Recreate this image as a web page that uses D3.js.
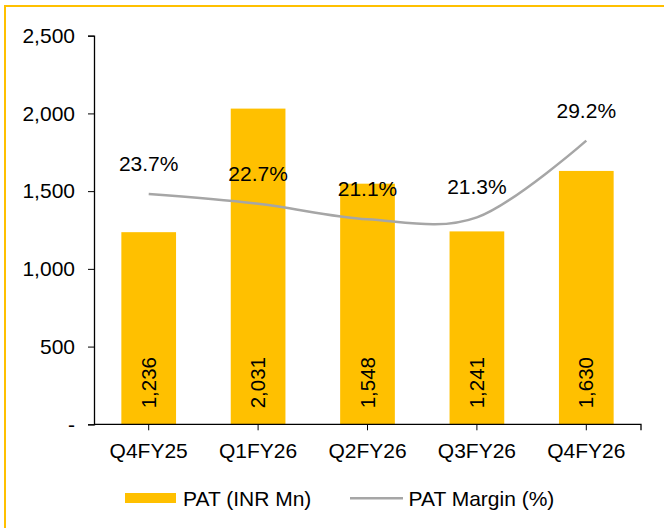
<!DOCTYPE html>
<html>
<head>
<meta charset="utf-8">
<script src="https://cdn.jsdelivr.net/npm/d3@7"></script>
<style>
  html, body { margin: 0; padding: 0; background: #fff; }
  svg { display: block; }
</style>
</head>
<body>
<div id="chart"></div>
<script>
const categories = ["Q4FY25", "Q1FY26", "Q2FY26", "Q3FY26", "Q4FY26"];
const patValues = [1236, 2031, 1548, 1241, 1630];
const marginValues = [23.7, 22.7, 21.1, 21.3, 29.2];
const yTicks = [0, 500, 1000, 1500, 2000, 2500];

const width = 664, height = 528;
const plotLeft = 94, plotRight = 641, plotTop = 35.7, plotBottom = 424.3;
const font = "'Liberation Sans', Arial, sans-serif";

const svg = d3.select("#chart").append("svg")
  .attr("width", width)
  .attr("height", height)
  .style("font-family", font);

// yellow frame (runs off the right/bottom edge)
svg.append("rect")
  .attr("x", 5).attr("y", 6)
  .attr("width", 720).attr("height", 600)
  .attr("fill", "#fff")
  .attr("stroke", "#FFC000")
  .attr("stroke-width", 2);

const x = d3.scaleBand().domain(categories).range([plotLeft, plotRight])
  .paddingInner(0.5).paddingOuter(0.25);
const y = d3.scaleLinear().domain([0, 2500]).range([plotBottom, plotTop]);
const y2 = d3.scaleLinear().domain([0, 40]).range([plotBottom, plotTop]);

// bars
svg.append("g").selectAll("rect")
  .data(patValues)
  .join("rect")
  .attr("x", (d, i) => x(categories[i]))
  .attr("y", d => y(d))
  .attr("width", x.bandwidth())
  .attr("height", d => y(0) - y(d))
  .attr("fill", "#FFC000");

// bar labels, rotated
svg.append("g").selectAll("text")
  .data(patValues)
  .join("text")
  .attr("transform", (d, i) => `translate(${x(categories[i]) + x.bandwidth() / 2 + 7},${plotBottom - 16}) rotate(-90)`)
  .attr("font-size", 20.5)
  .attr("fill", "#000")
  .text(d => d3.format(",")(d));

// y axis
const yAxis = svg.append("g")
  .attr("transform", `translate(${plotLeft},0)`)
  .call(d3.axisLeft(y).tickValues(yTicks).tickSize(6).tickPadding(13)
    .tickFormat(d => d === 0 ? "-" : d3.format(",")(d)));
yAxis.select(".domain").attr("stroke", "#000").attr("stroke-width", 1.3);
yAxis.selectAll(".tick line").attr("stroke", "#000");
yAxis.selectAll("text").attr("font-size", 21).attr("font-family", font).attr("fill", "#000");

// x axis
const xAxis = svg.append("g")
  .attr("transform", `translate(0,${plotBottom})`)
  .call(d3.axisBottom(x).tickSize(0).tickPadding(19));
xAxis.select(".domain").attr("d", `M${plotLeft},0H${plotRight}V6`).attr("stroke", "#000").attr("stroke-width", 1.3);
xAxis.selectAll("text").attr("font-size", 21).attr("font-family", font).attr("fill", "#000");
xAxis.selectAll(".tick").append("line")
  .attr("y2", 6).attr("stroke", "#000");

// margin line
const line = d3.line()
  .x((d, i) => x(categories[i]) + x.bandwidth() / 2)
  .y(d => y2(d))
  .curve(d3.curveCardinal.tension(0));
svg.append("path")
  .datum(marginValues)
  .attr("d", line)
  .attr("fill", "none")
  .attr("stroke", "#A6A6A6")
  .attr("stroke-width", 2.5);

svg.append("g").selectAll("text")
  .data(marginValues)
  .join("text")
  .attr("x", (d, i) => x(categories[i]) + x.bandwidth() / 2)
  .attr("y", d => y2(d) - 23)
  .attr("text-anchor", "middle")
  .attr("font-size", 21)
  .attr("fill", "#000")
  .text(d => d.toFixed(1) + "%");

// legend
const legend = svg.append("g");
legend.append("rect")
  .attr("x", 125).attr("y", 493).attr("width", 51).attr("height", 10)
  .attr("fill", "#FFC000");
legend.append("text")
  .attr("x", 183).attr("y", 505.5)
  .attr("font-size", 21).text("PAT (INR Mn)");
legend.append("line")
  .attr("x1", 350).attr("x2", 403).attr("y1", 498.3).attr("y2", 498.3)
  .attr("stroke", "#A6A6A6").attr("stroke-width", 2.5);
legend.append("text")
  .attr("x", 408.5).attr("y", 505.5)
  .attr("font-size", 21).text("PAT Margin (%)");
</script>
</body>
</html>
